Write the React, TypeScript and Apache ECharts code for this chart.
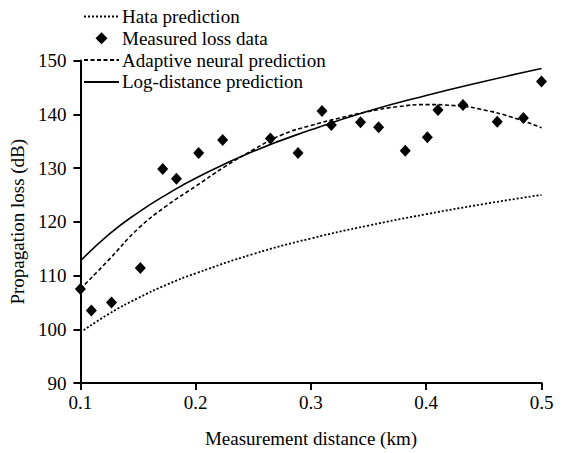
import React, { useEffect, useRef } from "react";
import * as echarts from "echarts";

const hataX = [0.1, 0.125, 0.15, 0.175, 0.2, 0.25, 0.3, 0.35, 0.4, 0.45, 0.5];
const hataY = [99.4, 102.9, 105.8, 108.3, 110.4, 114.0, 116.9, 119.3, 121.4, 123.3, 125.0];

const logX = [0.1, 0.125, 0.15, 0.175, 0.2, 0.25, 0.3, 0.35, 0.4, 0.45, 0.5];
const logY = [112.7, 117.7, 121.7, 125.1, 128.1, 133.1, 137.1, 140.6, 143.5, 146.1, 148.5];

const neuralX = [0.1, 0.125, 0.15, 0.175, 0.2, 0.225, 0.25, 0.275, 0.3, 0.325, 0.35, 0.375, 0.4, 0.425, 0.45, 0.475, 0.5];
const neuralY = [107.5, 113.0, 118.7, 123.0, 126.6, 130.2, 133.4, 136.2, 137.9, 139.3, 140.5, 141.4, 141.8, 141.6, 140.8, 139.4, 137.5];

const measuredX = [0.1, 0.1095, 0.127, 0.152, 0.1714, 0.1833, 0.2026, 0.2234, 0.2648, 0.2888, 0.3096, 0.3177, 0.343, 0.3587, 0.3818, 0.401, 0.4102, 0.4319, 0.4616, 0.4843, 0.5];
const measuredY = [107.5, 103.5, 105.0, 111.4, 129.8, 128.0, 132.8, 135.2, 135.5, 132.8, 140.6, 138.0, 138.5, 137.6, 133.2, 135.7, 140.8, 141.7, 138.6, 139.3, 146.1];

const xTicks = [0.1, 0.2, 0.3, 0.4, 0.5];
const yTicks = [90, 100, 110, 120, 130, 140, 150];

const names = {
  hata: "Hata prediction",
  measured: "Measured loss data",
  neural: "Adaptive neural prediction",
  log: "Log-distance prediction",
};

const zip = (xs: number[], ys: number[]) => xs.map((x, i) => [x, ys[i]]);

export default function App() {
  const ref = useRef<HTMLDivElement>(null);
  useEffect(() => {
    if (!ref.current) return;
    const chart = echarts.init(ref.current, null, { renderer: "svg" });
    const font = "Liberation Serif";
    const fs = 19;
    const hidden = { color: "#000", opacity: 0 };
    chart.setOption({
      animation: false,
      backgroundColor: "#ffffff",
      textStyle: { fontFamily: font, color: "#000" },
      grid: { left: 80, right: 21.5, top: 60.5, bottom: 69.7, containLabel: false },
      legend: {
        orient: "vertical",
        left: 83,
        top: 7,
        padding: 0,
        itemGap: 2.8,
        itemWidth: 35,
        itemHeight: 12,
        symbolKeepAspect: true,
        textStyle: { fontFamily: font, fontSize: fs, color: "#000", padding: [0, 0, 0, -2] },
        data: [
          { name: names.hata, itemStyle: hidden },
          { name: names.measured, icon: "path://M5 0 L10 5 L5 10 L0 5 Z", itemStyle: { color: "#000", opacity: 1 } },
          { name: names.neural, itemStyle: hidden },
          { name: names.log, itemStyle: hidden },
        ],
      },
      xAxis: {
        type: "value",
        min: xTicks[0],
        max: xTicks[xTicks.length - 1],
        interval: 0.1,
        name: "Measurement distance (km)",
        nameLocation: "middle",
        nameGap: 46,
        nameTextStyle: { fontFamily: font, fontSize: fs, color: "#000" },
        axisLine: { lineStyle: { color: "#000", width: 2 } },
        axisTick: { show: true, inside: false, length: 7, lineStyle: { color: "#000", width: 2 } },
        axisLabel: {
          margin: 10,
          fontFamily: font,
          fontSize: fs,
          color: "#000",
          formatter: (v: number) => v.toFixed(1),
        },
        splitLine: { show: false },
      },
      yAxis: {
        type: "value",
        min: yTicks[0],
        max: yTicks[yTicks.length - 1],
        interval: 10,
        name: "Propagation loss (dB)",
        nameLocation: "middle",
        nameGap: 50,
        nameTextStyle: { fontFamily: font, fontSize: fs, color: "#000" },
        axisLine: { show: true, lineStyle: { color: "#000", width: 2 } },
        axisTick: { show: true, inside: false, length: 7, lineStyle: { color: "#000", width: 2 } },
        axisLabel: { margin: 14, fontFamily: font, fontSize: fs, color: "#000" },
        splitLine: { show: false },
      },
      series: [
        {
          name: names.hata,
          type: "line",
          data: zip(hataX, hataY),
          smooth: true,
          showSymbol: false,
          lineStyle: { color: "#000", width: 1.8, type: [2, 2] },
          itemStyle: hidden,
        },
        {
          name: names.log,
          type: "line",
          data: zip(logX, logY),
          smooth: true,
          showSymbol: false,
          lineStyle: { color: "#000", width: 1.6, type: "solid" },
          itemStyle: hidden,
        },
        {
          name: names.neural,
          type: "line",
          data: zip(neuralX, neuralY),
          smooth: true,
          showSymbol: false,
          lineStyle: { color: "#000", width: 1.6, type: [4, 2.5] },
          itemStyle: hidden,
        },
        {
          name: names.measured,
          type: "scatter",
          data: zip(measuredX, measuredY),
          symbol: "diamond",
          symbolSize: [11, 12],
          itemStyle: { color: "#000", opacity: 1 },
          z: 5,
        },
      ],
    });
    return () => chart.dispose();
  }, []);
  return (
    <div
      ref={ref}
      style={{ position: "fixed", left: 0, top: 0, width: 563, height: 453, background: "#fff" }}
    />
  );
}
